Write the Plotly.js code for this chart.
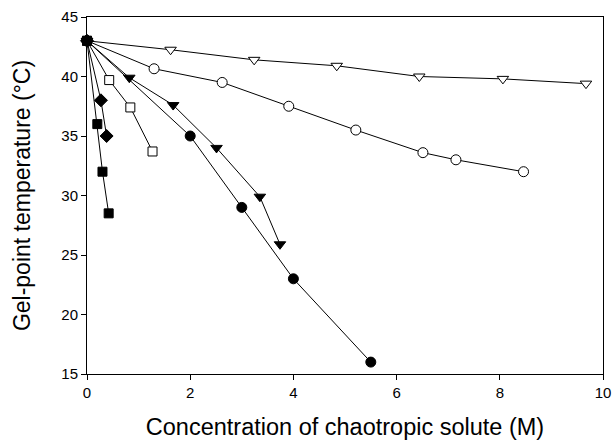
<!DOCTYPE html>
<html>
<head>
<meta charset="utf-8">
<script src="https://cdn.plot.ly/plotly-3.0.1.min.js"></script>
<style>html,body{margin:0;padding:0;background:#fff}#chart{width:613px;height:444px}</style>
</head>
<body>
<div id="chart"></div>
<script>
// Concentration (M) and gel-point temperature (°C) for each solute series
const sqFilledX = [0, 0.2, 0.3, 0.42];
const sqFilledY = [43, 36, 32, 28.5];
const diamondX = [0, 0.27, 0.38];
const diamondY = [43, 38, 35];
const sqOpenX = [0, 0.43, 0.84, 1.27];
const sqOpenY = [43, 39.7, 37.4, 33.7];
const triFilledX = [0, 0.82, 1.67, 2.51, 3.35, 3.74];
const triFilledY = [43, 39.9, 37.6, 34.0, 29.9, 25.9];
const circFilledX = [0, 2.0, 3.0, 4.0, 5.5];
const circFilledY = [43, 35, 29, 23, 16];
const circOpenX = [0, 1.30, 2.62, 3.91, 5.21, 6.51, 7.15, 8.46];
const circOpenY = [43, 40.65, 39.5, 37.5, 35.5, 33.6, 33.0, 32.0];
const triOpenX = [0, 1.62, 3.24, 4.84, 6.44, 8.06, 9.67];
const triOpenY = [43, 42.25, 41.4, 40.9, 40.0, 39.8, 39.4];

const xTicks = [0, 2, 4, 6, 8, 10];
const yTicks = [15, 20, 25, 30, 35, 40, 45];

function series(x, y, symbol, filled, size) {
  return {
    x: x, y: y, type: 'scatter', mode: 'lines+markers',
    line: {color: '#000', width: 1},
    marker: {symbol: symbol, size: size, color: filled ? '#000' : '#fff',
             line: {color: '#000', width: 1}},
    cliponaxis: false, hoverinfo: 'skip'
  };
}

const data = [
  series(triOpenX, triOpenY, 'triangle-down', false, 10),
  series(circOpenX, circOpenY, 'circle', false, 10),
  series(circFilledX, circFilledY, 'circle', true, 10),
  series(triFilledX, triFilledY, 'triangle-down', true, 10),
  series(sqOpenX, sqOpenY, 'square', false, 9),
  series(diamondX, diamondY, 'diamond', true, 10),
  series(sqFilledX, sqFilledY, 'square', true, 9)
];

const fam = 'Liberation Sans, Arial, sans-serif';

const layout = {
  width: 613, height: 444,
  margin: {l: 87, r: 10, t: 17, b: 70},
  paper_bgcolor: '#fff', plot_bgcolor: '#fff',
  showlegend: false,
  font: {family: fam, color: '#000'},
  xaxis: {
    range: [0, 10], tickvals: xTicks, ticktext: xTicks.map(String),
    ticks: 'outside', ticklen: 5, tickcolor: '#000', tickwidth: 1,
    showline: true, linecolor: '#000', linewidth: 1, mirror: true,
    showgrid: false, zeroline: false,
    tickfont: {size: 15, family: fam, color: '#000'},
    title: {text: 'Concentration of chaotropic solute (M)', standoff: 18,
            font: {size: 23.5, family: fam, color: '#000'}}
  },
  yaxis: {
    range: [15, 45], tickvals: yTicks, ticktext: yTicks.map(String),
    ticks: 'outside', ticklen: 5, tickcolor: '#000', tickwidth: 1,
    showline: true, linecolor: '#000', linewidth: 1, mirror: true,
    showgrid: false, zeroline: false,
    tickfont: {size: 15, family: fam, color: '#000'},
    title: {text: 'Gel-point temperature (°C)', standoff: 24,
            font: {size: 23, family: fam, color: '#000'}}
  }
};

Plotly.newPlot('chart', data, layout, {staticPlot: true, displayModeBar: false});
</script>
</body>
</html>
